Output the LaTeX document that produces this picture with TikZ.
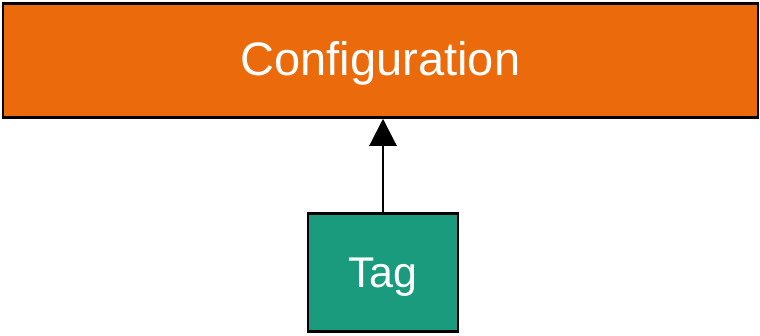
\documentclass[tikz,border=0pt]{standalone}
\usepackage{fontspec}
\setmainfont{Liberation Sans}
\usetikzlibrary{arrows.meta}
\definecolor{cfgorange}{RGB}{235,106,12}
\definecolor{tagteal}{RGB}{27,155,125}
\tikzset{
  box/.style={draw=black, line width=2.5pt, inner sep=0pt, text=white,
              text height=34pt, text depth=5pt},
  link/.style={draw=black, line width=2.2pt, -{Triangle[length=27pt,width=27pt]}}
}
\begin{document}
\begin{tikzpicture}[x=1pt,y=-1pt]
  \useasboundingbox (0,0) rectangle (760,335);
  \node[box, fill=cfgorange, minimum width=755pt, minimum height=114pt,
        font=\fontsize{47}{56}\selectfont] (cfg) at (380.5,60.5) {Configuration};
  \node[box, fill=tagteal, minimum width=150pt, minimum height=118pt,
        font=\fontsize{43}{50}\selectfont] (tag) at (383,272.5) {Tag};
  \draw[link] (tag.north) -- (cfg.south -| tag.north);
\end{tikzpicture}
\end{document}
